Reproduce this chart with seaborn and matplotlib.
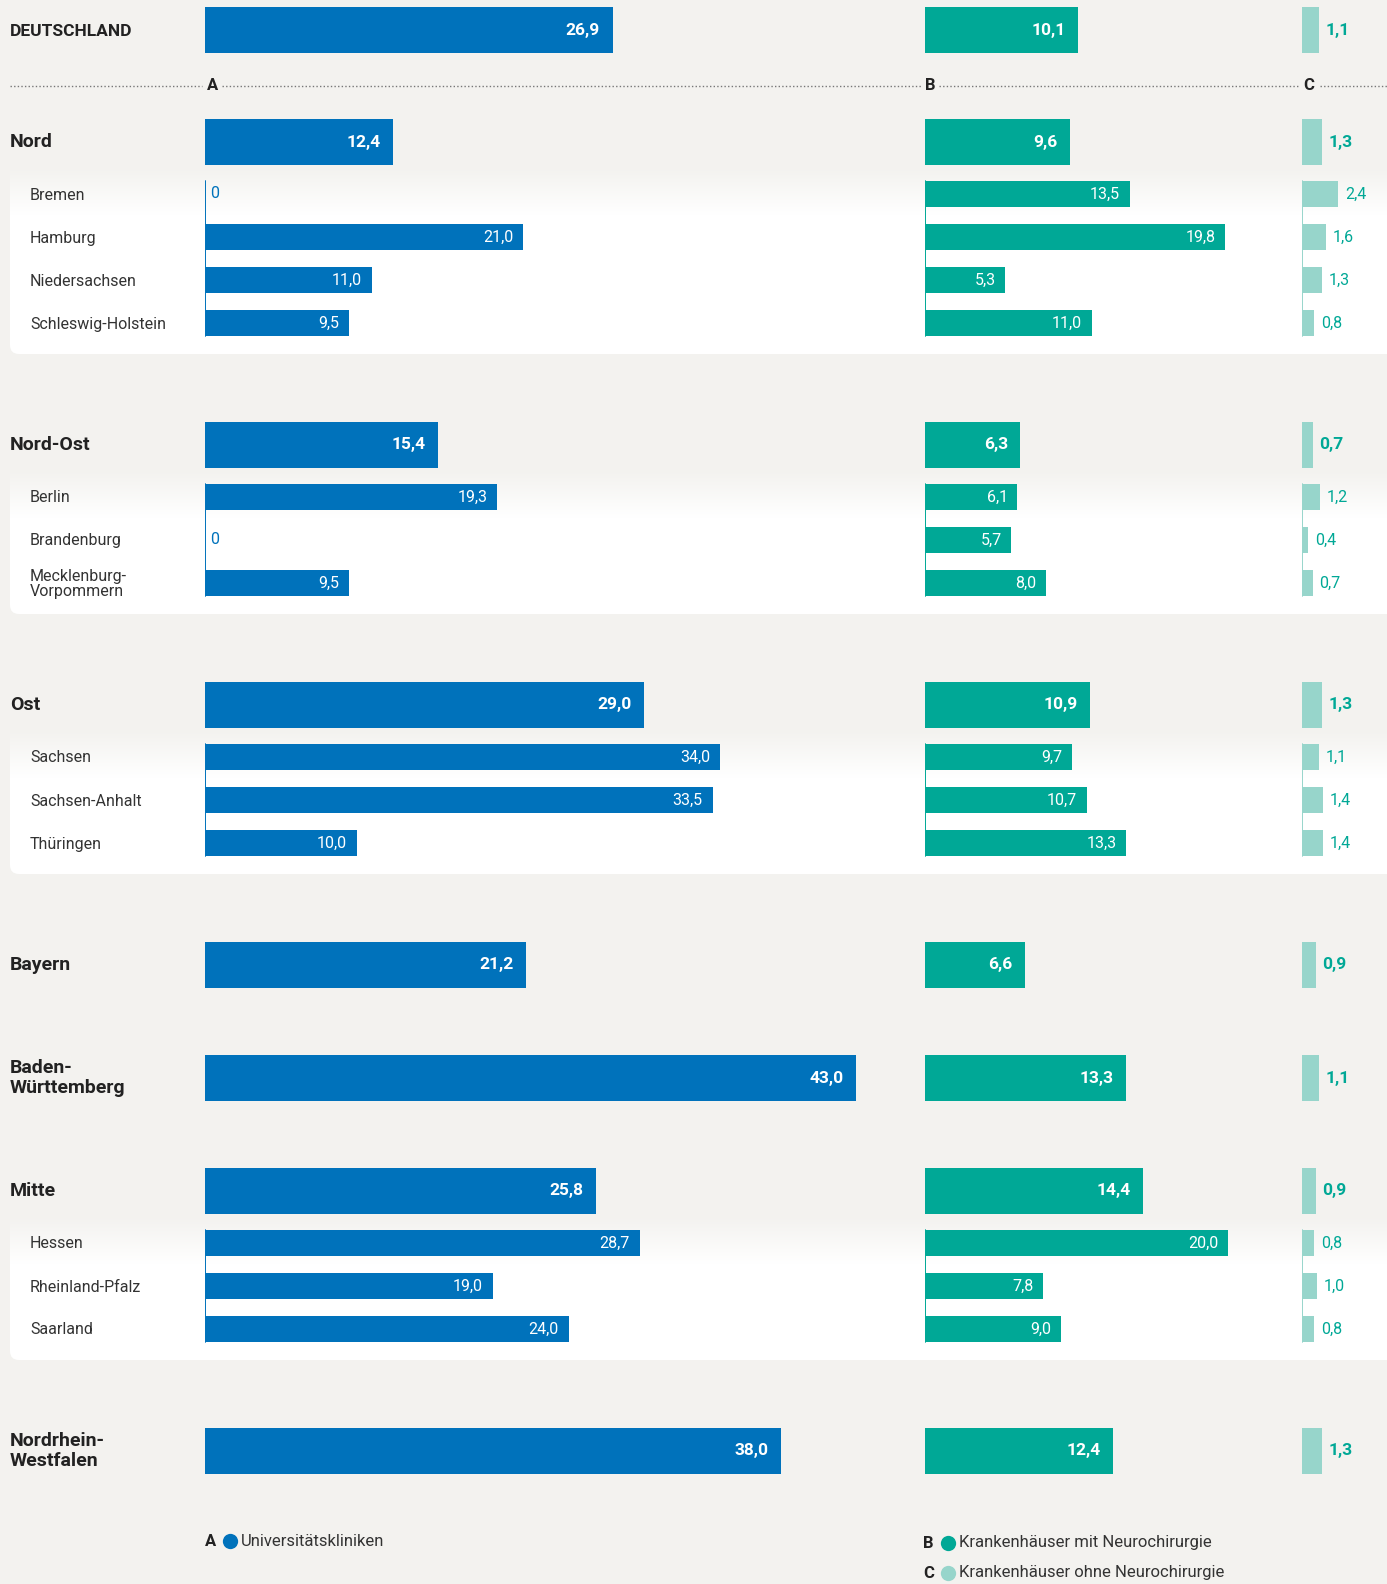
import numpy as np
import pandas as pd
import matplotlib
matplotlib.use('Agg')
import matplotlib.pyplot as plt
from matplotlib.patches import FancyBboxPatch
import seaborn as sns

# ---------------- data ----------------
total_label = 'DEUTSCHLAND'
total_a = 26.9
total_b = 10.1
total_c = 1.1

regions = ['Nord', 'Nord-Ost', 'Ost', 'Bayern', 'Baden-\nWürttemberg', 'Mitte', 'Nordrhein-\nWestfalen']
region_a = [12.4, 15.4, 29.0, 21.2, 43.0, 25.8, 38.0]
region_b = [9.6, 6.3, 10.9, 6.6, 13.3, 14.4, 12.4]
region_c = [1.3, 0.7, 1.3, 0.9, 1.1, 0.9, 1.3]

states = ['Bremen', 'Hamburg', 'Niedersachsen', 'Schleswig-Holstein',
          'Berlin', 'Brandenburg', 'Mecklenburg-\nVorpommern',
          'Sachsen', 'Sachsen-Anhalt', 'Thüringen',
          'Hessen', 'Rheinland-Pfalz', 'Saarland']
state_region = ['Nord'] * 4 + ['Nord-Ost'] * 3 + ['Ost'] * 3 + ['Mitte'] * 3
state_a = [0, 21.0, 11.0, 9.5, 19.3, 0, 9.5, 34.0, 33.5, 10.0, 28.7, 19.0, 24.0]
state_b = [13.5, 19.8, 5.3, 11.0, 6.1, 5.7, 8.0, 9.7, 10.7, 13.3, 20.0, 7.8, 9.0]
state_c = [2.4, 1.6, 1.3, 0.8, 1.2, 0.4, 0.7, 1.1, 1.4, 1.4, 0.8, 1.0, 0.8]

legend_keys = ['A', 'B', 'C']
legend_texts = ['Universitätskliniken', 'Krankenhäuser mit Neurochirurgie',
                'Krankenhäuser ohne Neurochirurgie']

# ---------------- style ----------------
W, H = 1387, 1584
BG = '#f3f2ef'
COL_A = '#0072bb'
COL_B = '#00a896'
COL_C = '#97d5cb'
TXT = '#222222'
PX = 15.15  # pixels per unit, same for all three columns

sns.set_theme(style='white')
plt.rcParams['font.family'] = ['Roboto', 'DejaVu Sans']


def fmt(v):
    return '0' if v == 0 else f'{v:.1f}'.replace('.', ',')


# row layout (pixels from top)
head_y = [30]
sub_y = []
y = 142
for r in regions:
    head_y.append(y)
    n = state_region.count(r)
    if n:
        ys = [y + 52 + 43 * i for i in range(n)]
        sub_y += ys
        y = ys[-1] + 122
    else:
        y += 113

heads = pd.DataFrame({'label': [total_label] + regions, 'y': head_y,
                      'A': [total_a] + region_a, 'B': [total_b] + region_b,
                      'C': [total_c] + region_c})
subs = pd.DataFrame({'label': states, 'region': state_region, 'y': sub_y,
                     'A': state_a, 'B': state_b, 'C': state_c})

fig = plt.figure(figsize=(W / 100, H / 100), dpi=100, facecolor=BG)
bg = fig.add_axes([0, 0, 1, 1])
bg.set_facecolor(BG)

# white panels for the sub-regions, fading in from the background at the top
grad = np.linspace(0, 1, 60)[:, None, None]
c0 = np.array(matplotlib.colors.to_rgb(BG))
grad_img = c0 * (1 - grad) + np.ones(3) * grad
for r, hy in zip(heads['label'], heads['y']):
    g = subs[subs['region'] == r]
    if len(g) == 0:
        continue
    top = hy + 25
    bottom = g['y'].max() + 31
    bg.add_patch(FancyBboxPatch((10, top), W + 40, bottom - top,
                                boxstyle='round,pad=0,rounding_size=9',
                                fc='white', ec='none', zorder=1))
    bg.imshow(grad_img, extent=(10, W + 20, top + 48, top), aspect='auto',
              origin='upper', zorder=2)
bg.set_xlim(0, W)
bg.set_ylim(H, 0)
bg.axis('off')

# row labels
for lab, hy in zip(heads['label'], heads['y']):
    if lab == total_label:
        bg.text(10, hy + 1, lab, fontsize=12.5, fontweight='bold', color=TXT, va='center')
    else:
        bg.text(10, hy, lab, fontsize=14, fontweight='bold', color=TXT, va='center',
                linespacing=1.1)
for lab, sy in zip(subs['label'], subs['y']):
    bg.text(30, sy + 1, lab, fontsize=11.5, color='#333333', va='center', linespacing=1.05)

# dotted separator with column letters
sep_y = 86
for x0, x1 in [(10, 202), (222, 921), (939, 1298), (1320, W)]:
    bg.plot([x0, x1], [sep_y, sep_y], color='#777777', lw=1, ls=(0, (1, 1.6)), zorder=3)
for key, x in zip(legend_keys, [213, 930, 1309]):
    bg.text(x, sep_y, key, fontsize=12, fontweight='bold', color=TXT, ha='center', va='center')

# legend
legend_pos = [(205, 1541), (923, 1543), (923, 1573)]
for key, txt, col, (lx, ly) in zip(legend_keys, legend_texts, [COL_A, COL_B, COL_C], legend_pos):
    bg.text(lx, ly, key, fontsize=12, fontweight='bold', color=TXT, va='center')
    bg.plot(lx + 25, ly, 'o', ms=11, color=col, mec='none')
    bg.text(lx + 36, ly, txt, fontsize=12, color='#333333', va='center')

# ---------------- bars ----------------
columns = [('A', 205, 46, COL_A), ('B', 925, 24, COL_B), ('C', 1302, 5.5, COL_C)]
head_w = 45.5 / np.diff(sorted(head_y)).min()
sub_w = 26.5 / np.diff(sorted(sub_y)).min()

for col, x0, xmax, color in columns:
    ax = fig.add_axes([x0 / W, 0, xmax * PX / W, 1])
    ax.patch.set_alpha(0)
    sns.barplot(data=heads, x=col, y='y', orient='h', native_scale=True, width=head_w,
                color=color, saturation=1, errorbar=None, linewidth=0, ax=ax)
    sns.barplot(data=subs, x=col, y='y', orient='h', native_scale=True, width=sub_w,
                color=color, saturation=1, errorbar=None, linewidth=0, ax=ax)

    # thin baseline inside each panel
    for r in regions:
        g = subs[subs['region'] == r]
        if len(g):
            ax.plot([0.03, 0.03], [g['y'].min() - 13, g['y'].max() + 13],
                    color=color, lw=1.4, zorder=0.5)

    for v, yy in zip(heads[col], heads['y']):
        if col == 'C':
            ax.annotate(fmt(v), (v, yy), xytext=(5, 0), textcoords='offset points',
                        ha='left', va='center', fontsize=12.5, fontweight='bold', color=COL_B)
        else:
            ax.annotate(fmt(v), (v, yy), xytext=(-9, 0), textcoords='offset points',
                        ha='right', va='center', fontsize=12.5, fontweight='bold', color='white')
    for v, yy in zip(subs[col], subs['y']):
        if col == 'C':
            ax.annotate(fmt(v), (v, yy), xytext=(5, 0), textcoords='offset points',
                        ha='left', va='center', fontsize=11.5, color=COL_B)
        elif v == 0:
            ax.annotate(fmt(v), (v, yy), xytext=(4, 0), textcoords='offset points',
                        ha='left', va='center', fontsize=11.5, color=COL_A)
        else:
            ax.annotate(fmt(v), (v, yy), xytext=(-7, 0), textcoords='offset points',
                        ha='right', va='center', fontsize=11.5, color='white')

    ax.set_xlim(0, xmax)
    ax.set_ylim(H, 0)
    ax.axis('off')

fig.savefig('out.png', dpi=100, facecolor=BG)
